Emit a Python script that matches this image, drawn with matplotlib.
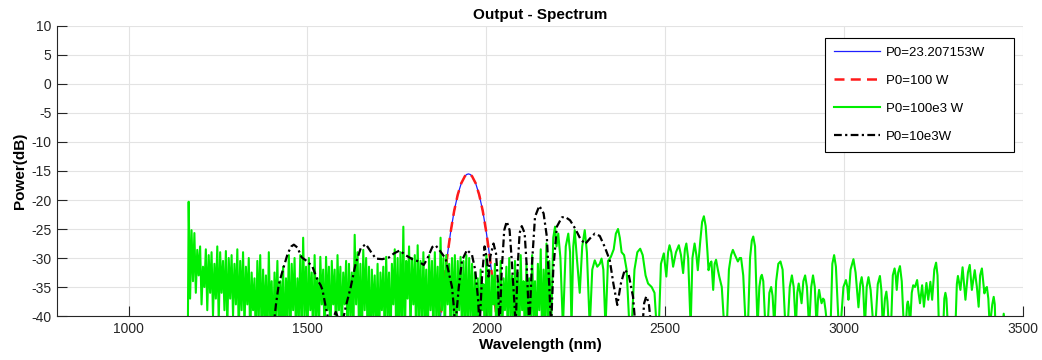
"""
Output spectrum of the pulse after propagation, for several peak powers P0.
Saves out.png.
"""
import matplotlib
matplotlib.use("Agg")
import matplotlib.pyplot as plt
import numpy as np

plt.rcParams.update({
    "font.family": ["Liberation Sans", "DejaVu Sans"],
    "axes.edgecolor": "#262626", "axes.linewidth": 0.8,
    "xtick.color": "#262626", "ytick.color": "#262626",
    "axes.unicode_minus": False,
})

# --- P0 = 23.207153 W and P0 = 100 W: same single peak ---------------------
gauss_wl = [1860, 1870, 1880, 1890, 1900, 1910, 1920, 1930, 1940, 1945, 1950,
            1955, 1960, 1970, 1980, 1990, 2000, 2010, 2020, 2030, 2040]
gauss_db = [-48.1, -41.3, -35.2, -30.0, -25.6, -21.9, -19.1, -17.1, -15.9, -15.6, -15.5,
            -15.6, -15.9, -17.1, -19.1, -21.9, -25.6, -30.0, -35.2, -41.3, -48.1]

# --- P0 = 100e3 W: dense part sampled every 4 nm from 1164 nm ---------------
green_dense_start, green_dense_step = 1164, 4
green_dense_db = [
    -60, -20.3, -37, -25.2, -34, -25.7, -36, -28.6, -33, -28.0,
    -38, -31.5, -35, -28.5, -39, -29.5, -36, -29.0, -40, -31.0,
    -37, -28.0, -41, -29.0, -36, -30.5, -39, -28.8, -42, -30.0,
    -37, -29.5, -40, -31.0, -38, -28.5, -43, -30.5, -39, -29.0,
    -42, -31.5, -38, -30.0, -44, -32.5, -39, -33.5, -45, -30.5,
    -40, -29.5, -44, -32.0, -41, -33.0, -45, -29.0, -41, -34.0,
    -45, -32.5, -40, -30.5, -44, -34.0, -41, -31.5, -46, -33.5,
    -40, -29.5, -45, -31.0, -39, -30.0, -44, -33.5, -40, -29.5,
    -45, -26.5, -40, -31.5, -44, -30.0, -39, -32.5, -45, -29.5,
    -40, -33.5, -43, -29.8, -38, -32.0, -44, -29.8, -39, -31.5,
    -45, -30.5, -38, -32.0, -44, -29.5, -39, -31.5, -43, -32.5,
    -38, -30.5, -44, -31.0, -40, -32.5, -45, -26.0, -38, -29.0,
    -42, -31.0, -45, -28.6, -39, -30.0, -43, -31.5, -46, -32.0,
    -40, -33.0, -44, -31.0, -45, -32.5, -39, -31.5, -44, -29.8,
    -40, -32.5, -45, -31.0, -38, -28.5, -43, -30.0, -44, -29.0,
    -42, -24.6, -45, -30.5, -37, -28.0, -43, -30.0, -38, -29.5,
    -45, -27.8, -40, -30.5, -44, -29.0, -41, -32.0, -45, -29.5,
    -39, -30.5, -44, -29.0, -40, -31.5, -45, -26.5, -39, -30.0,
    -44, -29.5, -38, -31.0, -43, -30.0, -40, -29.5, -45, -30.5,
    -39, -29.8, -44, -30.5, -41, -29.5, -45, -30.0, -40, -31.0,
    -45, -32.5, -41, -33.5, -45, -32.0, -39, -34.5, -45, -29.5,
    -40, -32.0, -45, -33.0, -38, -31.0, -45, -34.0, -40, -30.5,
    -45, -33.5, -39, -31.5, -44, -30.0, -40, -33.0, -45, -30.5,
    -40, -32.5, -45, -29.5, -39, -34.0, -45, -31.0, -41, -33.5,
    -45, -29.5, -40, -34.0, -45, -31.0, -39, -28.5, -45, -32.0,
    -41, -27.5, -45, -30.5,
]
# long-wavelength side: individual lobes
green_tail_wl = [
    2181, 2187, 2192, 2196, 2201, 2207, 2214, 2222, 2229, 2234, 2238, 2243, 2247, 2253,
    2261, 2268, 2275, 2281, 2289, 2296, 2303, 2310, 2317, 2322, 2327, 2333, 2340, 2348,
    2356, 2362, 2368, 2373, 2378, 2385, 2392, 2400, 2406, 2414, 2422, 2430, 2437, 2445,
    2452, 2462, 2470, 2476, 2482, 2488, 2496, 2503, 2508, 2512, 2517, 2522, 2530, 2538,
    2544, 2550, 2555, 2559, 2564, 2571, 2576, 2582, 2587, 2591, 2598, 2603, 2608, 2613,
    2618, 2621, 2625, 2629, 2634, 2638, 2642, 2647, 2651, 2658, 2665, 2672, 2678, 2684,
    2689, 2695, 2703, 2708, 2712, 2718, 2725, 2731, 2737, 2742, 2746, 2751, 2758, 2763,
    2767, 2770, 2774, 2780, 2786, 2791, 2796, 2800, 2805, 2810, 2816, 2822, 2828, 2836,
    2842, 2848, 2854, 2859, 2865, 2869, 2873, 2877, 2881, 2886, 2891, 2896, 2902, 2908,
    2913, 2918, 2923, 2927, 2930, 2934, 2937, 2941, 2944, 2948, 2953, 2962, 2967, 2972,
    2977, 2985, 2990, 2998, 3005, 3009, 3012, 3018, 3026, 3032, 3040, 3045, 3049, 3053,
    3058, 3063, 3068, 3074, 3082, 3087, 3094, 3100, 3104, 3108, 3114, 3118, 3121, 3125,
    3131, 3136, 3141, 3144, 3147, 3151, 3156, 3161, 3167, 3172, 3176, 3178, 3181, 3184,
    3189, 3193, 3198, 3204, 3208, 3212, 3218, 3223, 3230, 3235, 3241, 3246, 3252, 3257,
    3261, 3265, 3277, 3280, 3283, 3286, 3290, 3311, 3315, 3318, 3325, 3331, 3339, 3346,
    3351, 3357, 3365, 3371, 3376, 3380, 3385, 3392, 3396, 3399, 3403, 3407, 3414, 3418,
    3421, 3423, 3442, 3446, 3450,
]
green_tail_db = [
    -42, -26.5, -24.6, -28.0, -25.8, -30.0, -42, -28.0, -25.8, -29.0, -42, -28.0, -25.2, -30.0,
    -36.0, -28.0, -25.2, -29.0, -42, -32.0, -30.4, -31.5, -31.0, -30.1, -32.0, -42, -30.5, -29.8,
    -28.5, -25.8, -25.0, -26.5, -29.0, -29.5, -32.0, -42, -42, -32.0, -29.0, -28.4, -29.5, -33.0,
    -34.4, -35.0, -36.0, -42, -42, -31.0, -29.2, -33.2, -29.0, -27.8, -29.0, -31.5, -29.0, -27.8,
    -29.5, -32.6, -28.5, -27.5, -30.0, -42, -30.0, -27.5, -29.5, -32.1, -27.0, -23.8, -22.8, -24.5,
    -29.0, -32.1, -31.0, -30.6, -35.5, -31.0, -30.3, -32.0, -33.2, -35.0, -42, -42, -32.0, -29.5,
    -28.6, -29.5, -30.6, -30.0, -30.0, -33.0, -42, -42, -30.0, -27.0, -26.3, -28.0, -42, -35.0,
    -33.3, -32.9, -34.0, -42, -42, -36.0, -35.0, -36.5, -42, -34.0, -31.0, -30.6, -32.0, -42,
    -42, -35.0, -33.0, -35.0, -42, -36.0, -34.4, -36.0, -37.8, -34.0, -33.0, -35.0, -42, -35.0,
    -33.0, -35.0, -42, -37.0, -35.5, -37.0, -37.8, -37.0, -37.2, -39.0, -42, -42, -31.0, -29.5,
    -31.5, -42, -42, -35.0, -33.8, -35.0, -37.2, -32.0, -30.2, -32.5, -38.5, -34.5, -33.3, -35.0,
    -42, -35.0, -33.3, -35.5, -42, -42, -34.5, -33.1, -35.5, -42, -37.0, -35.8, -37.5, -42,
    -42, -33.0, -31.8, -33.0, -35.5, -32.5, -31.4, -34.0, -42, -42, -38.0, -37.5, -38.5, -42,
    -36.0, -34.7, -35.0, -33.8, -36.0, -37.8, -34.7, -38.4, -34.3, -37.2, -34.1, -37.2, -32.0, -30.8,
    -33.0, -42, -42, -37.0, -36.0, -37.0, -42, -42, -34.5, -33.1, -35.5, -31.6, -37.2, -32.5,
    -31.2, -35.5, -32.1, -35.0, -38.4, -33.0, -31.8, -36.1, -35.2, -35.0, -37.0, -42, -38.0, -36.7,
    -38.0, -42, -42, -39.6, -42,
]

# --- P0 = 10e3 W -------------------------------------------------------------
black_wl = [
    1405, 1412, 1420, 1431, 1445, 1455, 1462, 1472, 1484, 1500, 1514, 1528, 1537, 1542,
    1551, 1558, 1568, 1579, 1590, 1600, 1607, 1621, 1635, 1649, 1663, 1677, 1691, 1709,
    1728, 1742, 1758, 1774, 1793, 1811, 1825, 1835, 1849, 1858, 1872, 1886, 1895, 1904,
    1909, 1913, 1923, 1932, 1946, 1960, 1969, 1977, 1981, 1988, 1995, 2002, 2006, 2011,
    2020, 2027, 2032, 2037, 2043, 2050, 2057, 2065, 2071, 2079, 2082, 2087, 2093, 2099,
    2107, 2113, 2120, 2127, 2136, 2148, 2160, 2169, 2176, 2181, 2187, 2197, 2211, 2220,
    2234, 2248, 2262, 2276, 2290, 2303, 2317, 2331, 2345, 2355, 2366, 2376, 2387, 2398,
    2410, 2417, 2436, 2441, 2447, 2454, 2461,
]
black_db = [
    -42, -38.0, -34.5, -32.1, -29.2, -28.0, -27.7, -28.2, -29.9, -30.6, -31.5, -33.8, -34.7, -35.5,
    -38.4, -40.5, -41.0, -39.3, -41.0, -40.5, -38.4, -35.0, -30.9, -28.3, -27.6, -28.9, -30.1, -30.2,
    -29.9, -29.2, -28.7, -29.5, -30.2, -30.6, -31.2, -30.1, -28.1, -27.8, -28.9, -30.1, -32.5, -35.0,
    -38.4, -42, -35.0, -30.4, -28.6, -29.5, -32.1, -37.2, -42, -33.2, -28.0, -30.4, -33.2, -29.8,
    -27.5, -29.2, -33.8, -42, -32.1, -25.2, -23.7, -25.2, -30.4, -38.4, -42, -32.1, -25.7, -24.5,
    -25.7, -31.5, -42, -31.5, -22.9, -21.0, -22.3, -26.3, -35.0, -42, -32.1, -24.6, -23.0, -22.9,
    -23.5, -24.9, -26.6, -27.6, -26.6, -25.8, -26.2, -28.1, -30.4, -34.4, -38.1, -34.4, -32.0, -32.9,
    -36.7, -42, -42, -37.8, -36.6, -37.8, -42,
]

labels = ["P0=23.207153W", "P0=100 W", "P0=100e3 W", "P0=10e3W"]
x_ticks = [1000, 1500, 2000, 2500, 3000, 3500]
y_ticks = [10, 5, 0, -5, -10, -15, -20, -25, -30, -35, -40]

green_wl = np.concatenate([
    green_dense_start + green_dense_step * np.arange(len(green_dense_db)),
    green_tail_wl,
])
green_db = np.concatenate([green_dense_db, green_tail_db])

fig = plt.figure(figsize=(10.42, 3.6), dpi=100)
ax = fig.add_axes([0.0547, 0.1222, 0.9271, 0.8056])

h_blue, = ax.plot(gauss_wl, gauss_db, color="#1f1fff", lw=0.9)
h_red, = ax.plot(gauss_wl, gauss_db, color="#ff1a1a", lw=1.8, ls=(0, (4, 2.5)))
h_green, = ax.plot(green_wl, green_db, color="#00ee00", lw=1.5)
h_black, = ax.plot(black_wl, black_db, color="black", lw=1.6,
                   ls=(0, (3.5, 1.5, 1, 1.5)))

ax.set_xlim(800, 3500)
ax.set_ylim(-40, 10)
ax.set_xticks(x_ticks)
ax.set_yticks(y_ticks)
ax.grid(True, color="#e3e3e3", lw=0.8)
ax.set_axisbelow(True)
for side in ("top", "right"):
    ax.spines[side].set_visible(False)
ax.tick_params(direction="in", length=7, width=0.8, labelsize=10, pad=4)

ax.set_title("Output - Spectrum", fontsize=11, fontweight="bold", pad=5)
ax.set_xlabel("Wavelength (nm)", fontsize=11, fontweight="bold", labelpad=2)
ax.set_ylabel("Power(dB)", fontsize=11, fontweight="bold", labelpad=3)

leg = ax.legend([h_blue, h_red, h_green, h_black], labels,
                loc="upper left", bbox_to_anchor=(0.795, 0.5655, 0.1957, 0.393),
                mode="expand", borderaxespad=0, handlelength=3.5, handletextpad=0.5,
                labelspacing=1.2, borderpad=0.65, fontsize=9.5,
                fancybox=False, framealpha=1, edgecolor="black")
leg.get_frame().set_linewidth(0.8)

fig.savefig("out.png", dpi=100)
